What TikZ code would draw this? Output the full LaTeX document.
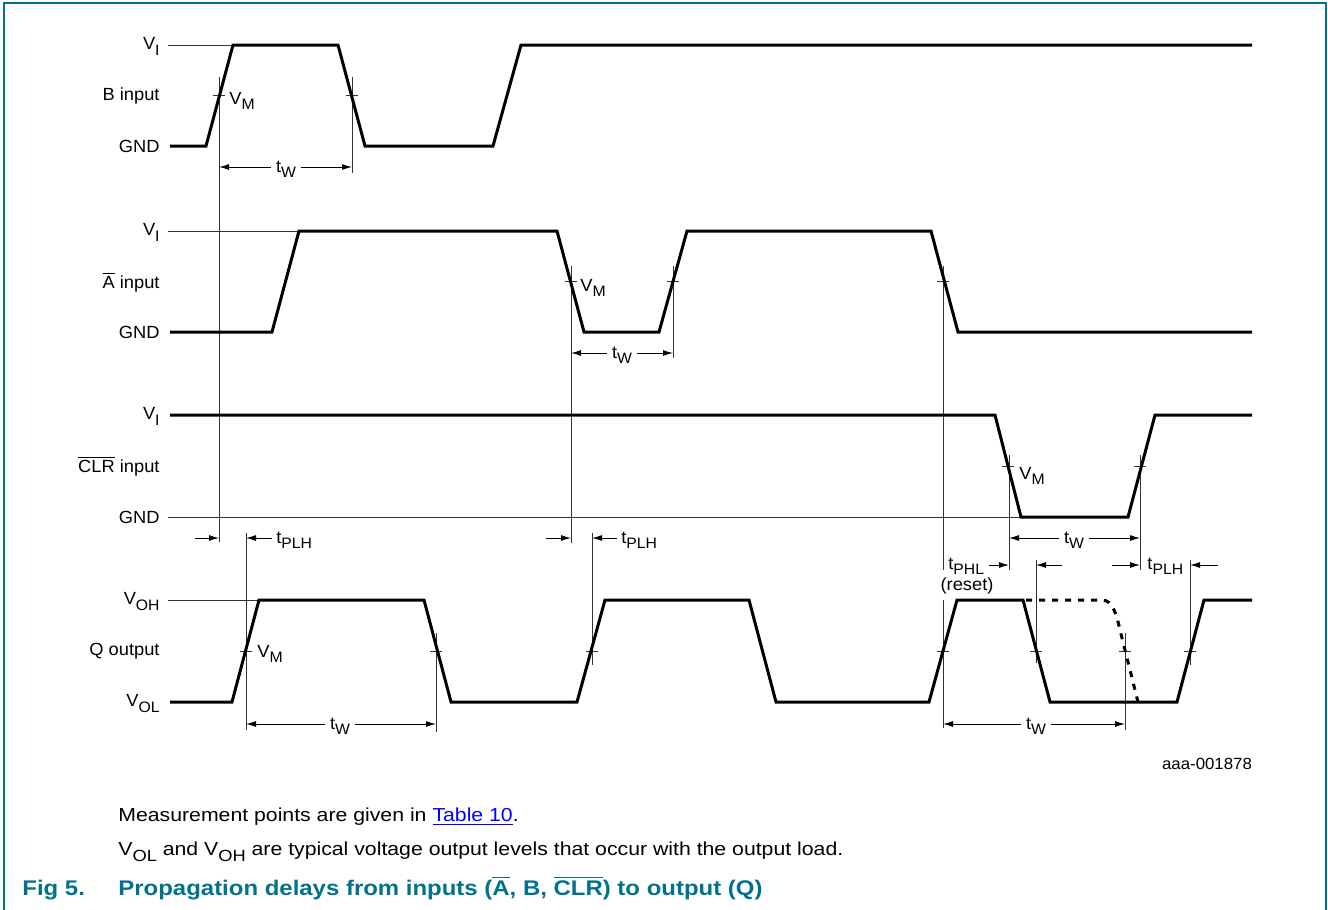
\documentclass[tikz,border=0pt]{standalone}
\usepackage{fontspec}
\setmainfont{Liberation Sans}[FakeStretch=1.04]
\newfontfamily\notefont{Liberation Sans}[FakeStretch=1.13]
\usetikzlibrary{arrows.meta}
\definecolor{nxpteal}{RGB}{0,114,140}
\definecolor{lnkblue}{RGB}{0,0,255}
\newcommand\lowsub[1]{\raisebox{-0.62ex}{\scalebox{0.86}{#1}}}
\newcommand\ovl[1]{$\overline{\mbox{#1}}$}
\tikzset{
  sig/.style={line width=1.5pt, line join=miter, line cap=butt},
  guide/.style={line width=0.5pt, black!80},
  dimarr/.style={line width=0.5pt, -{Latex[length=5pt,width=3pt]}},
  dimboth/.style={line width=0.5pt, {Latex[length=5pt,width=3pt]}-{Latex[length=5pt,width=3pt]}},
  lbl/.style={font=\fontsize{8.8pt}{10pt}\selectfont, inner sep=0pt},
  dimlbl/.style={font=\fontsize{8.8pt}{10pt}\selectfont, inner ysep=0pt, inner xsep=2.5pt, fill=white, anchor=base},
}
\begin{document}
\begin{tikzpicture}[x=0.5pt,y=-0.5pt]
\useasboundingbox (0,0) rectangle (1328,910);
% frame
\draw[nxpteal, line width=1pt] (4,910) -- (4,3) -- (1326,3) -- (1326,910);

% ---------- thin reference lines ----------
\draw[guide] (168,45) -- (232,45);
\draw[guide] (168,231) -- (299,231);
\draw[guide] (168,517) -- (1020,517);
\draw[guide] (168,600) -- (258,600);

% ---------- vertical guide lines ----------
\draw[guide] (219,77) -- (219,542);
\draw[guide] (352,77) -- (352,173);
\draw[guide] (571,266) -- (571,543);
\draw[guide] (673,266) -- (673,358);
\draw[guide] (943,266) -- (943,570);
\draw[guide] (943,600) -- (943,728);
\draw[guide] (1009,455) -- (1009,570);
\draw[guide] (1140,455) -- (1140,570);
\draw[guide] (246,533) -- (246,730);
\draw[guide] (436,633) -- (436,732);
\draw[guide] (592,533) -- (592,665);
\draw[guide] (1036,560) -- (1036,663);
\draw[guide] (1125,633) -- (1125,730);
\draw[guide] (1190,560) -- (1190,665);

% ---------- ticks at V_M crossings ----------
\foreach \x/\y in {219/95, 352/95, 571/281, 673/281, 943/281, 1008/466, 1140/466,
                   246/651, 436/651, 592/651, 943/651, 1036/651, 1125/651, 1190/651}
  \draw[guide] (\x-6,\y) -- (\x+6,\y);

% ---------- waveforms ----------
\draw[sig] (170,146) -- (206,146) -- (233,45) -- (338,45) -- (365,146) -- (493,146) -- (521,45) -- (1252,45);
\draw[sig] (170,332) -- (272,332) -- (299,231) -- (557,231) -- (584,332) -- (659,332) -- (687,231) -- (931,231) -- (958,332) -- (1252,332);
\draw[sig] (170,415) -- (995,415) -- (1021,517) -- (1128,517) -- (1155,415) -- (1252,415);
\draw[sig] (170,702) -- (232,702) -- (259,600) -- (424,600) -- (451,702) -- (577,702) -- (605,600) -- (749,600) -- (776,702) -- (929,702) -- (957,600) -- (1023,600) -- (1050,702) -- (1177,702) -- (1204,600) -- (1252,600);
\draw[sig, dash pattern=on 3pt off 3.5pt] (1026,600) -- (1103,600) .. controls (1112,601) and (1116,612) .. (1120,630) -- (1138,702);

% ---------- level labels ----------
\node[lbl, anchor=base east] (viB) at (160,49.5) {V\lowsub{I}};
\node[lbl, anchor=base east] (inB) at (160,100) {B input};
\node[lbl, anchor=base east] (gndB) at (160,152.5) {GND};
\node[lbl, anchor=base east] (viA) at (160,235.5) {V\lowsub{I}};
\node[lbl, anchor=base east] (inA) at (160,288.5) {\ovl{A} input};
\node[lbl, anchor=base east] (gndA) at (160,338.5) {GND};
\node[lbl, anchor=base east] (viC) at (160,419.5) {V\lowsub{I}};
\node[lbl, anchor=base east] (inC) at (160,472.5) {\ovl{CLR} input};
\node[lbl, anchor=base east] (gndC) at (160,523.5) {GND};
\node[lbl, anchor=base east] (voh) at (160,604.5) {V\lowsub{OH}};
\node[lbl, anchor=base east] (outQ) at (160,655.5) {Q output};
\node[lbl, anchor=base east] (vol) at (160,706.5) {V\lowsub{OL}};

% ---------- V_M labels ----------
\node[lbl, anchor=base west] (vmB) at (229,104) {V\lowsub{M}};
\node[lbl, anchor=base west] (vmA) at (580,291) {V\lowsub{M}};
\node[lbl, anchor=base west] (vmC) at (1019,479) {V\lowsub{M}};
\node[lbl, anchor=base west] (vmQ) at (257,657) {V\lowsub{M}};

% ---------- pulse widths ----------
\draw[dimboth] (219,167) -- (352,167);
\node[dimlbl] (twB) at (286,172) {t\lowsub{W}};
\draw[dimboth] (571,353) -- (673,353);
\node[dimlbl] (twA) at (622,358) {t\lowsub{W}};
\draw[dimboth] (1009,538) -- (1140,538);
\node[dimlbl] (twC) at (1074,543) {t\lowsub{W}};
\draw[dimboth] (246,724) -- (436,724);
\node[dimlbl] (twQ1) at (340,729) {t\lowsub{W}};
\draw[dimboth] (943,724) -- (1125,724);
\node[dimlbl] (twQ2) at (1036,729) {t\lowsub{W}};

% ---------- propagation delays ----------
\draw[dimarr] (195,538) -- (219,538);
\draw[dimarr] (272,538) -- (246,538);
\node[lbl, anchor=base west] (tplh1) at (276,543) {t\lowsub{PLH}};
\draw[dimarr] (546,538) -- (571,538);
\draw[dimarr] (617,538) -- (592,538);
\node[lbl, anchor=base west] (tplh2) at (621,543) {t\lowsub{PLH}};
\node[lbl, anchor=base west] (tphl) at (948,569) {t\lowsub{PHL}};
\draw[dimarr] (989,565) -- (1009,565);
\node[lbl, anchor=base] (reset) at (967,590) {(reset)};
\draw[dimarr] (1062,565) -- (1036,565);
\draw[dimarr] (1112,565) -- (1140,565);
\node[lbl, anchor=base west] (tplh3) at (1147,569) {t\lowsub{PLH}};
\draw[dimarr] (1218,565) -- (1190,565);

% ---------- footer texts ----------
\node[anchor=base, inner sep=0pt, font=\fontsize{8.1pt}{10pt}\selectfont] (code) at (1207,769) {aaa-001878};
\node[anchor=base west, inner sep=0pt, font=\notefont\fontsize{9.4pt}{11pt}\selectfont] (note1) at (118,821.5)
  {Measurement points are given in \textcolor{lnkblue}{\underline{Table 10}}.};
\node[anchor=base west, inner sep=0pt, font=\notefont\fontsize{9.4pt}{11pt}\selectfont] (note2) at (118,855.5)
  {V\lowsub{OL} and V\lowsub{OH} are typical voltage output levels that occur with the output load.};
\node[anchor=base west, inner sep=0pt, text=nxpteal, font=\notefont\fontsize{10.6pt}{12pt}\selectfont\bfseries] (fignum) at (22,895) {Fig 5.};
\node[anchor=base west, inner sep=0pt, text=nxpteal, font=\notefont\fontsize{10.6pt}{12pt}\selectfont\bfseries] (figcap) at (118,895)
  {Propagation delays from inputs (\ovl{A}, B, \ovl{CLR}) to output (Q)};
\end{tikzpicture}
\end{document}
